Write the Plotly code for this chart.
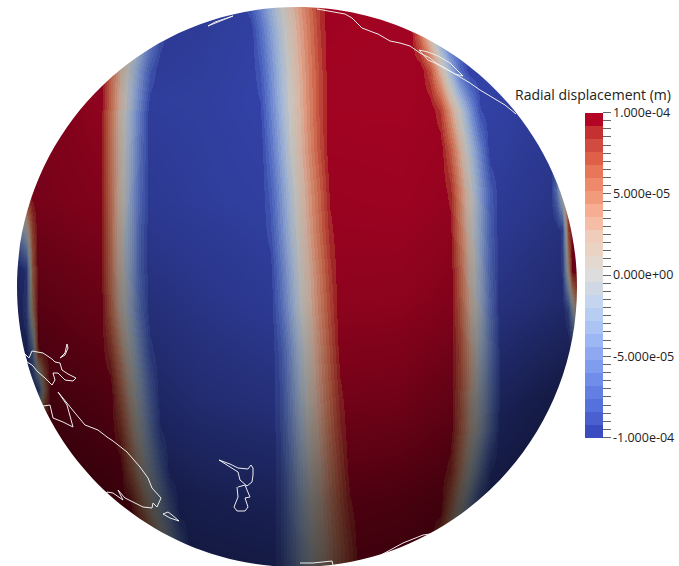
import plotly.graph_objects as go

W, H = 679, 566
FONT = "Open Sans"

# --- Radial displacement, in units of 1e-5 m ---
xs = [14, 20, 26, 32, 38, 44, 50] + list(range(60, 550, 10)) + [550, 556, 562, 568, 572, 576, 580]
ys = [-10, 30, 70, 110, 150, 190, 230, 270, 310, 350, 390, 430, 470, 510, 550, 590]

R7 = [10] * 7
B7 = [-10] * 7

row_m10 = R7 + [10]*7 + [6.4,2.7,-.9,-4.5,-8.2] + [-10]*7 + [-7.4,-4.7,-2.1,.4,2.5,4.6,6.7,8.8] + [10]*8 + [5,0,-5] + [-10]*11 + B7
row_030 = R7 + [10]*5 + [9.3,5.8,2.3,-1.2,-4.7,-8.2] + [-10]*9 + [-7.1,-4.1,-1.2,1.4,3.7,6,8.4] + [10]*9 + [5.6,0,-5.6] + [-10]*10 + B7
row_070 = R7 + [10]*5 + [6.4,2.7,-.9,-4.5,-8.2] + [-10]*10 + [-8.4,-5.3,-2.2,.7,3.2,5.6,8] + [10]*10 + [7.5,2.5,-2.5,-7.5] + [-10]*8 + B7
row_110 = R7 + [10]*5 + [6,2,-2,-6] + [-10]*11 + [-9.4,-6.1,-2.9,.3,2.8,5.4,7.9] + [10]*11 + [8.3,3.9,-.4,-4.8,-9.1] + [-10]*6 + B7
row_150 = R7 + [10]*5 + [5.8,1.7,-2.5,-6.7] + [-10]*12 + [-7,-3.7,-.3,2.4,5,7.6] + [10]*12 + [7,2.8,-1.5,-5.7] + [-10]*6 + B7
row_190 = R7 + [10]*5 + [5.7,1.5,-2.8,-7] + [-10]*12 + [-8,-4.7,-1.3,1.6,4.2,6.8,9.5] + [10]*11 + [8.8,4.6,.4,-3.8,-7.9] + [-10]*5 + [-10,-6,2,10,10,10,10]
row_230 = [-3,-3,0,7,10,10,10] + [10]*5 + [5.7,1.3,-3,-7.4] + [-10]*12 + [-8.7,-5.3,-2,1.1,3.7,6.3,8.9] + [10]*11 + [9.6,5.3,1.1,-3.2,-7.4] + [-10]*5 + [-10,-10,-9,7,10,10,10]
row_270 = [-10,-10,-9,5,10,10,10] + [10]*5 + [5.7,1.3,-3,-7.4] + [-10]*12 + [-9.7,-6.3,-3,.3,2.9,5.5,8.2] + [10]*12 + [6.1,1.7,-2.6,-7] + [-10]*5 + [-10,-10,-9,2,10,10,10]
row_310 = [-10,-10,-8,3,10,10,10] + [10]*5 + [6.2,1.9,-2.3,-6.6] + [-10]*13 + [-7,-3.7,-.3,2.4,5,7.6] + [10]*12 + [6.6,2.3,-1.9,-6.2] + [-10]*5 + [-10,-10,-10,-8,-2,3,10]
row_350 = [-10,-10,-10,-5,9,10,10] + [10]*5 + [7.9,3.8,-.4,-4.6,-8.8] + [-10]*12 + [-8,-4.7,-1.3,1.6,4.3,7,9.7] + [10]*11 + [7.1,2.9,-1.3,-5.4,-9.6] + [-10]*4 + B7
row_390 = [-10,-10,-10,-10,-8,3,10] + [10]*6 + [5.8,1.7,-2.5,-6.7] + [-10]*12 + [-8.3,-5,-1.7,1.3,3.8,6.4,9] + [10]*11 + [6.8,2.8,-1.2,-5.2,-9.2] + [-10]*4 + B7
row_430 = R7 + [10]*6 + [7.9,3.6,-.6,-4.9,-9.1] + [-10]*11 + [-8.4,-5.3,-2.2,.8,3.2,5.8,8.3] + [10]*11 + [6.3,2.2,-1.8,-5.9] + [-10]*5 + B7
row_470 = R7 + [10]*7 + [6,2,-2,-6] + [-10]*11 + [-8.6,-5.6,-2.6,.2,2.6,5,7.4,9.8] + [10]*9 + [8.7,4.2,-.2,-4.7,-9.1] + [-10]*5 + B7
row_510 = R7 + [10]*8 + [6,2,-2,-6] + [-10]*10 + [-8.6,-5.7,-2.9,0,2.2,4.4,6.7,8.9] + [10]*9 + [5.2,.5,-4.3,-9] + [-10]*6 + B7
row_550 = R7 + [10]*9 + [7.8,3.3,-1.1,-5.6] + [-10]*9 + [-8.6,-5.9,-3.2,-.5,1.7,3.8,5.8,7.9] + [10]*8 + [5,0,-5] + [-10]*8 + B7
displacement_rows = [row_m10, row_030, row_070, row_110, row_150, row_190, row_230, row_270,
                     row_310, row_350, row_390, row_430, row_470, row_510, row_550, row_550]

# --- Surface shading (0 = fully lit, 1 = black) ---
shade_x = [0, 100, 200, 300, 400, 500, 600]
shade_y = [0, 100, 200, 300, 400, 500, 570]
shade = [
    [.45, .30, .22, .12, .10, .15, .25],
    [.40, .20, .18, .10, .10, .15, .30],
    [.38, .28, .20, .15, .13, .22, .38],
    [.55, .42, .30, .20, .22, .34, .50],
    [.70, .58, .42, .35, .38, .55, .75],
    [.82, .72, .60, .55, .60, .70, .82],
    [.85, .78, .68, .65, .68, .78, .85],
]

band_colors = ["#3b4cc0", "#4a60d0", "#5571db", "#637fe3", "#6f8de9", "#7f9cef", "#8ea9f2", "#9cb8f4",
               "#abc4f4", "#b8cdf2", "#c5d5ef", "#d0d8e4", "#dddddd", "#e3d9d0", "#ebd3c4", "#f0cdbb",
               "#f5bda6", "#f6ad91", "#f29b7c", "#ee8a6b", "#e8775a", "#de6049", "#d24b40", "#c53030", "#b40426"]

tick_major = [10, 5, 0, -5, -10]
tick_major_text = ["1.000e-04", "5.000e-05", "0.000e+00", "-5.000e-05", "-1.000e-04"]
tick_minor = [9.5, 9, 8.5, 8, 7.5, 7, 6.5, 6, 5.5, 4.5, 4, 3.5, 3, 2.5, 2, 1.5, 1, .5,
              -.5, -1, -1.5, -2, -2.5, -3, -3.5, -4, -4.5, -5.5, -6, -6.5, -7, -7.5, -8, -8.5, -9, -9.5]

# --- Coastlines, in picture coordinates ---
coasts = [
    ([317,328,340,345,352,362,375,378,390,400,410,420,430,436,445,455,463,470,480,490,505,516],
     [9,11,13,14,18,28,33,34,41,43,46,53,58,63,68,74,79,83,90,96,105,114]),
    ([419,428,438,450,463,455,444,435,428,419], [50,52,56,63,76,74,68,63,60,50]),
    ([208,225,233,215,208], [26,19,16,22,26]),
    ([32,43,52,55,60,62,68,76,73,65,58,53,55,52,45,38,32,27,24,29,32],
     [351,353,359,362,363,370,374,378,381,380,373,373,380,385,378,372,365,362,353,358,351]),
    ([67,68,65,60,65,67], [344,348,355,358,353,344]),
    ([43,50,53,63,73,67,58,68,75,85,98,107,113,127,140,148,152,161,157,153,152,143,132,125,118,123,113,107,106],
     [406,405,418,422,427,405,392,405,413,425,430,437,441,452,467,478,488,498,507,503,508,507,502,498,490,500,493,492,495]),
    ([163,168,172,179,170,163], [514,512,515,521,518,514]),
    ([219,230,238,248,251,253,253,252,247,240,238,230,219], [460,464,468,469,465,468,475,482,486,480,472,467,460]),
    ([238,245,247,250,245,248,245,237,234,238,237], [487,485,490,497,498,507,511,511,507,497,487]),
    ([430,423,403,387,375,368], [534,535,543,552,558,562]),
    ([300,313,332,333], [563,563,561,565]),
]

cmin, cmax = -10, 10
n = len(band_colors)
colorscale = []
for i, c in enumerate(band_colors):
    colorscale += [[i / n, c], [(i + 1) / n, c]]

tickvals = tick_major + tick_minor
ticktext = tick_major_text + [""] * len(tick_minor)

BAR_TOP, BAR_BOTTOM = 113, 437.5

fig = go.Figure()
fig.add_trace(go.Heatmap(
    x=xs, y=ys, z=displacement_rows, zmin=cmin, zmax=cmax, zsmooth="best",
    colorscale=colorscale, hoverinfo="skip",
    colorbar=dict(
        x=585 / W, xanchor="left", xpad=0, ypad=0,
        y=1 - BAR_BOTTOM / H, yanchor="bottom", len=(BAR_BOTTOM - BAR_TOP) / H, lenmode="fraction",
        thickness=18, thicknessmode="pixels", outlinewidth=0,
        tickmode="array", tickvals=tickvals, ticktext=ticktext,
        ticks="outside", ticklen=8, tickwidth=1, tickcolor="#666666",
        tickfont=dict(family=FONT, size=12.5, color="#222222"),
    ),
))
fig.add_trace(go.Heatmap(
    x=shade_x, y=shade_y, z=shade, zmin=0, zmax=1, zsmooth="best", showscale=False,
    colorscale=[[0, "rgba(0,0,0,0)"], [1, "rgba(0,0,0,1)"]], hoverinfo="skip",
))
for cx, cy in coasts:
    fig.add_trace(go.Scatter(x=cx, y=cy, mode="lines", showlegend=False, hoverinfo="skip",
                             line=dict(color="#eeeeee", width=1)))

fig.update_layout(
    width=W, height=H, margin=dict(l=0, r=0, t=0, b=0, autoexpand=False),
    paper_bgcolor="white", plot_bgcolor="white", showlegend=False,
    xaxis=dict(range=[0, W], visible=False, fixedrange=True),
    yaxis=dict(range=[H, 0], visible=False, fixedrange=True),
    shapes=[dict(
        type="path", layer="above", xref="x", yref="y", line=dict(width=0),
        fillcolor="white", fillrule="evenodd",
        path=("M0,0 H679 V566 H0 Z "
              "M17,287 C17,441.6 142.4,567 297,567 C451.6,567 577,441.6 577,287 "
              "C577,132.4 451.6,7 297,7 C142.4,7 17,132.4 17,287 Z"),
    )],
    annotations=[dict(
        text="Radial displacement (m)", x=593 / W, y=1 - 95 / H, xref="paper", yref="paper",
        xanchor="center", yanchor="middle", showarrow=False,
        font=dict(family=FONT, size=14, color="#222222"),
    )],
)
fig.write_html("out.html", config={"displayModeBar": False, "staticPlot": True},
               post_script="document.body.style.margin='0';")
